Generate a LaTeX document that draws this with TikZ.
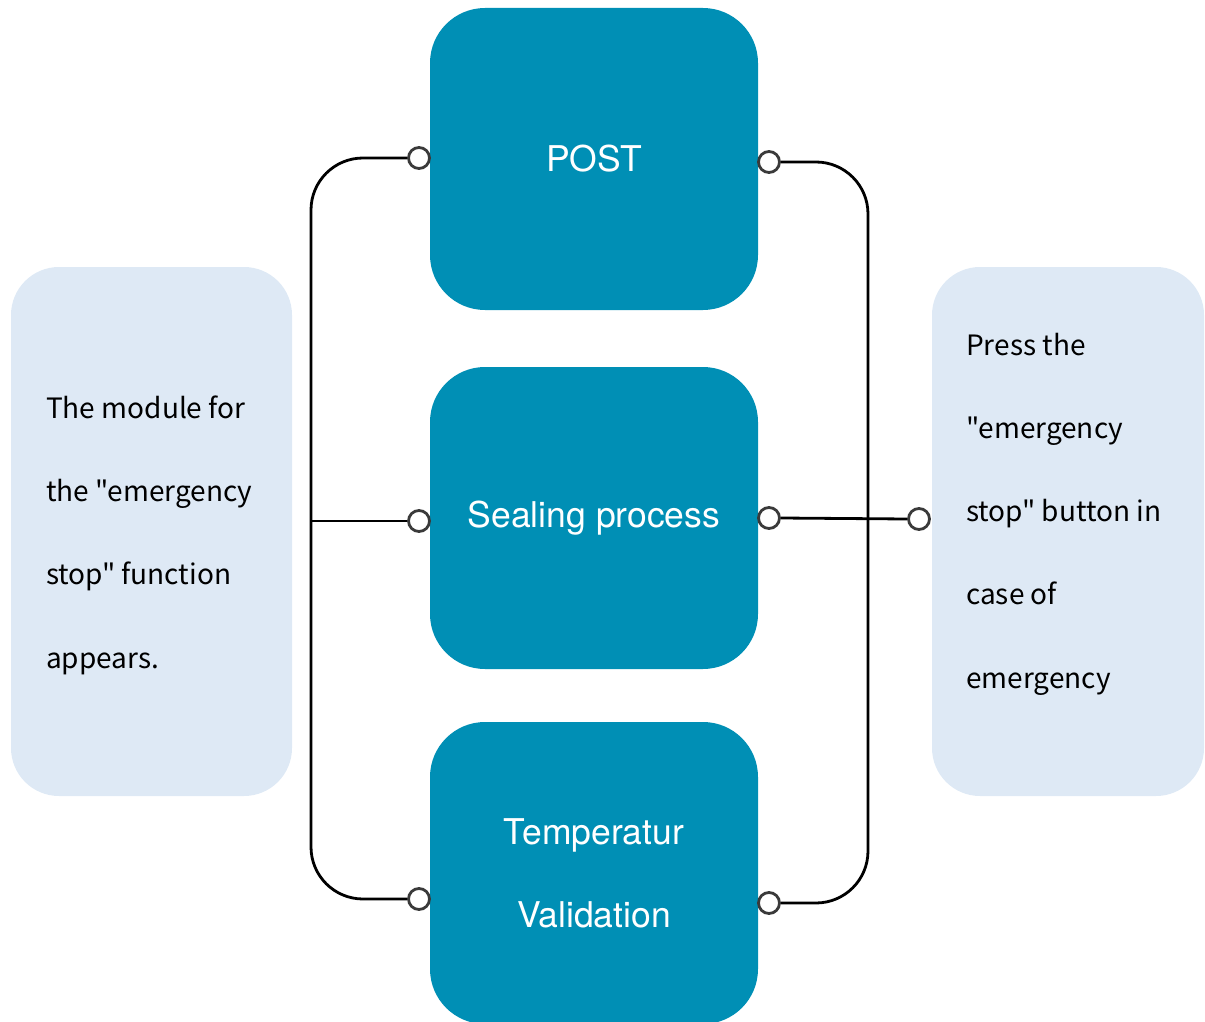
\documentclass[tikz,border=0pt]{standalone}
\usepackage{fontspec}
\setmainfont{TeX Gyre Heros}
\newfontfamily\sidefont{Noto Sans CJK JP}
\definecolor{teal}{HTML}{008FB5}
\definecolor{pale}{HTML}{DEE9F5}
\definecolor{ring}{HTML}{3A3A3A}
\begin{document}
\begin{tikzpicture}[x=1pt,y=1pt,
  mainbox/.style={fill=teal,rounded corners=55pt,minimum width=328pt,minimum height=302pt,inner sep=0pt,
    text=white,font=\fontsize{35.5}{83}\selectfont,align=center},
  sidebox/.style={fill=pale,rounded corners=48pt,inner sep=0pt},
  sidetext/.style={font=\sidefont\fontsize{28}{83.3}\selectfont,align=left,anchor=west,inner sep=0pt,text=black},
  port/.style={circle,draw=ring,fill=white,line width=2.8pt,minimum size=21pt,inner sep=0pt},
  wire/.style={line width=2.8pt,black,rounded corners=52pt}]
\useasboundingbox (0,0) rectangle (1205,-1022);
% side boxes
\node[sidebox,minimum width=281pt,minimum height=529pt] (lbox) at (151.5,-531.5) {};
\node[sidebox,minimum width=272pt,minimum height=529pt] (rbox) at (1068,-531.5) {};
\node[sidetext] (ltext) at (46,-535) {The module for\\the "emergency\\stop" function\\appears.};
\node[sidetext] (rtext) at (966,-514) {Press the\\"emergency\\stop" button in\\case of\\emergency};
% main boxes
\node[mainbox] (post) at (594,-159) {POST};
\node[mainbox] (seal) at (594,-518) {Sealing process};
\node[mainbox] (temp) at (594,-873) {Temperatur\\Validation};
% wires
\coordinate (spL) at (311,-521);
\coordinate (spR) at (868,-519);
\node[port] (cl1) at (419,-158) {};
\node[port] (cl2) at (419,-521) {};
\node[port] (cl3) at (419,-899) {};
\node[port] (cr1) at (769,-162) {};
\node[port] (cr2) at (769,-518) {};
\node[port] (cr3) at (769,-903) {};
\node[port] (cf) at (919,-519) {};
\draw[wire] (cl1.west) -| (spL) |- (cl3.west);
\draw[wire] (spL) -- (cl2.west);
\draw[wire] (cr1.east) -| (spR) |- (cr3.east);
\draw[wire] (cr2.east) -- (cf.west);
\end{tikzpicture}
\end{document}
